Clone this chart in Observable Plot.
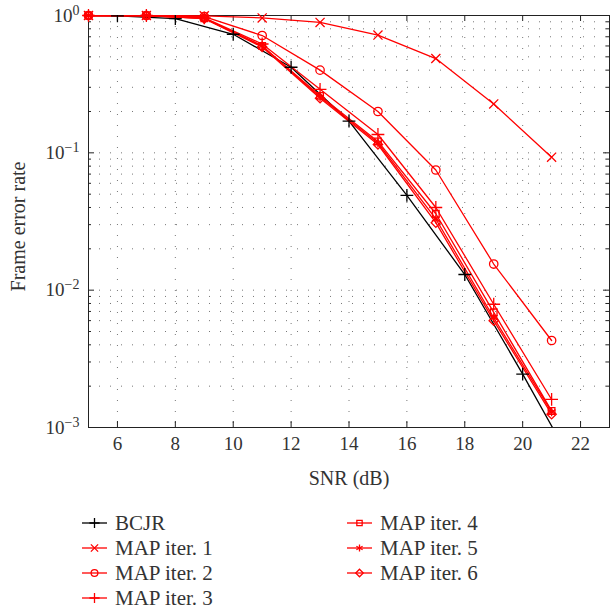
<!DOCTYPE html>
<html><head><meta charset="utf-8">
<script src="https://cdn.jsdelivr.net/npm/d3@7"></script>
<script src="https://cdn.jsdelivr.net/npm/@observablehq/plot@0.6"></script>
<style>body{margin:0;background:#fff;} svg{display:block}</style>
</head><body><div id="chart"></div><script>
// ---- data ----
const snrOdd = [5, 7, 9, 11, 13, 15, 17, 19, 21];
const snrBcjr = [4, 6, 8, 10, 12, 14, 16, 18, 20, 22];
const bcjr  = [1.0, 0.995, 0.95, 0.73, 0.42, 0.17, 0.049, 0.013, 0.00245, 0.00043];
const iter1 = [1.0, 1.0, 0.995, 0.96, 0.89, 0.72, 0.486, 0.227, 0.093];
const iter2 = [1.0, 1.0, 0.98, 0.715, 0.40, 0.20, 0.075, 0.0155, 0.0043];
const iter3 = [1.0, 1.0, 0.96, 0.62, 0.29, 0.136, 0.040, 0.0079, 0.0016];
const iter4 = [1.0, 1.0, 0.955, 0.60, 0.26, 0.121, 0.036, 0.0069, 0.00132];
const iter5 = [1.0, 1.0, 0.955, 0.60, 0.255, 0.118, 0.033, 0.0063, 0.0013];
const iter6 = [1.0, 1.0, 0.95, 0.59, 0.25, 0.115, 0.031, 0.0060, 0.00125];
const seriesNames = ["BCJR", "MAP iter. 1", "MAP iter. 2", "MAP iter. 3", "MAP iter. 4", "MAP iter. 5", "MAP iter. 6"];
const seriesSymbols = ["plus", "times", "circle", "plus", "square2", "asterisk", "diamond2"];
const seriesColors = ["#000000", "#ff0000", "#ff0000", "#ff0000", "#ff0000", "#ff0000", "#ff0000"];
const xTicks = [6, 8, 10, 12, 14, 16, 18, 20, 22];
const yTicks = [0.001, 0.01, 0.1, 1];

const seriesX = [snrBcjr, snrOdd, snrOdd, snrOdd, snrOdd, snrOdd, snrOdd];
const seriesY = [bcjr, iter1, iter2, iter3, iter4, iter5, iter6];
const series = seriesNames.map((name, i) => ({
  name, symbol: seriesSymbols[i], color: seriesColors[i],
  rows: seriesX[i].map((x, j) => ({snr: x, fer: seriesY[i][j]}))
}));

const yMinor = [];
for (let k = -3; k < 0; k++) for (let m = 2; m <= 9; m++) yMinor.push(m * Math.pow(10, k));

// ---- layout ----
const W = 610, H = 500, ML = 88, MR = 1, MT = 15, MB = 73;
const plotW = W - ML - MR, plotH = H - MT - MB;
const font = "'Liberation Serif', 'Times New Roman', serif";
const ink = "#222";

const marks = [
  Plot.ruleY(yMinor.concat(yTicks), {stroke: "#777", strokeWidth: 1, strokeDasharray: "1,10"}),
  Plot.ruleX(xTicks, {stroke: "#777", strokeWidth: 1, strokeDasharray: "1,10"}),
  Plot.frame({stroke: ink, strokeWidth: 1}),
  Plot.ruleX(xTicks, {insetTop: plotH - 6, stroke: ink}),
  Plot.ruleX(xTicks, {insetBottom: plotH - 6, stroke: ink}),
  Plot.ruleY(yTicks, {insetRight: plotW - 6, stroke: ink}),
  Plot.ruleY(yMinor, {insetRight: plotW - 3, stroke: ink}),
  Plot.ruleY(yTicks, {insetLeft: plotW - 6, stroke: ink}),
  Plot.ruleY(yMinor, {insetLeft: plotW - 3, stroke: ink}),
  Plot.axisX({ticks: xTicks, tickSize: 0, tickPadding: 9, label: null}),
  Plot.axisY({ticks: yTicks, tickSize: 0, tickPadding: 9, label: null,
    tickFormat: d => "10^" + Math.round(Math.log10(d))}),
  Plot.text(["SNR (dB)"], {frameAnchor: "bottom", dy: 51, lineAnchor: "middle", textAnchor: "middle", fontSize: 20, fill: "#333"}),
  Plot.text(["Frame error rate"], {frameAnchor: "left", dx: -70, dy: 5, rotate: -90, textAnchor: "middle", lineAnchor: "middle", fontSize: 20, fill: "#333"})
];
for (const s of series) {
  marks.push(Plot.line(s.rows, {x: "snr", y: "fer", stroke: s.color, strokeWidth: 1.3, clip: true}));
}
for (const s of series) {
  marks.push(Plot.dot(s.rows, {x: "snr", y: "fer", symbol: s.symbol, r: 4.2, stroke: s.color, fill: "none", strokeWidth: 1.3, clip: s.name === "BCJR"}));
}

const chart = Plot.plot({
  width: W, height: H, marginLeft: ML, marginRight: MR, marginTop: MT, marginBottom: MB,
  style: {fontFamily: font, fontSize: "19px", color: "#333", background: "white", overflow: "visible"},
  x: {domain: [5, 23]},
  y: {type: "log", domain: [0.001, 1]},
  marks
});
document.getElementById("chart").appendChild(chart);

// tick label size
chart.querySelectorAll('[aria-label="x-axis tick label"], [aria-label="y-axis tick label"]').forEach(g => {
  g.setAttribute("font-size", "19");
  g.style.fontSize = "19px";
});

// superscript exponents on y tick labels
const svgns = "http://www.w3.org/2000/svg";
chart.querySelectorAll('[aria-label="y-axis tick label"] text').forEach(t => {
  const s = t.textContent;
  if (!s.includes("^")) return;
  const [b, e] = s.split("^");
  t.textContent = b;
  const ts = document.createElementNS(svgns, "tspan");
  ts.setAttribute("dy", "-0.5em");
  ts.setAttribute("font-size", "14");
  ts.style.fontSize = "14px";
  ts.textContent = e.replace("-", "\u2212");
  t.appendChild(ts);
});

// ---- legend ----
const leg = d3.select("#chart").append("svg").attr("width", W).attr("height", 115)
  .style("font-family", font).style("font-size", "21px");
const symMap = {plus: d3.symbolPlus, times: d3.symbolTimes, circle: d3.symbolCircle,
  square2: d3.symbolSquare2, asterisk: d3.symbolAsterisk, diamond2: d3.symbolDiamond2};
series.forEach((s, i) => {
  const col = i < 4 ? 0 : 1;
  const row = i < 4 ? i : i - 4;
  const x0 = col === 0 ? 82 : 347;
  const y = 23 + row * 25;
  const g = leg.append("g");
  g.append("line").attr("x1", x0).attr("x2", x0 + 25).attr("y1", y).attr("y2", y)
    .attr("stroke", s.color).attr("stroke-width", 1.3);
  g.append("path").attr("d", d3.symbol(symMap[s.symbol], 36)())
    .attr("transform", `translate(${x0 + 12.5},${y})`)
    .attr("fill", "none").attr("stroke", s.color).attr("stroke-width", 1.3);
  g.append("text").attr("x", x0 + 33).attr("y", y).attr("dy", "0.35em")
    .attr("fill", "#333").text(s.name);
});
</script></body></html>
